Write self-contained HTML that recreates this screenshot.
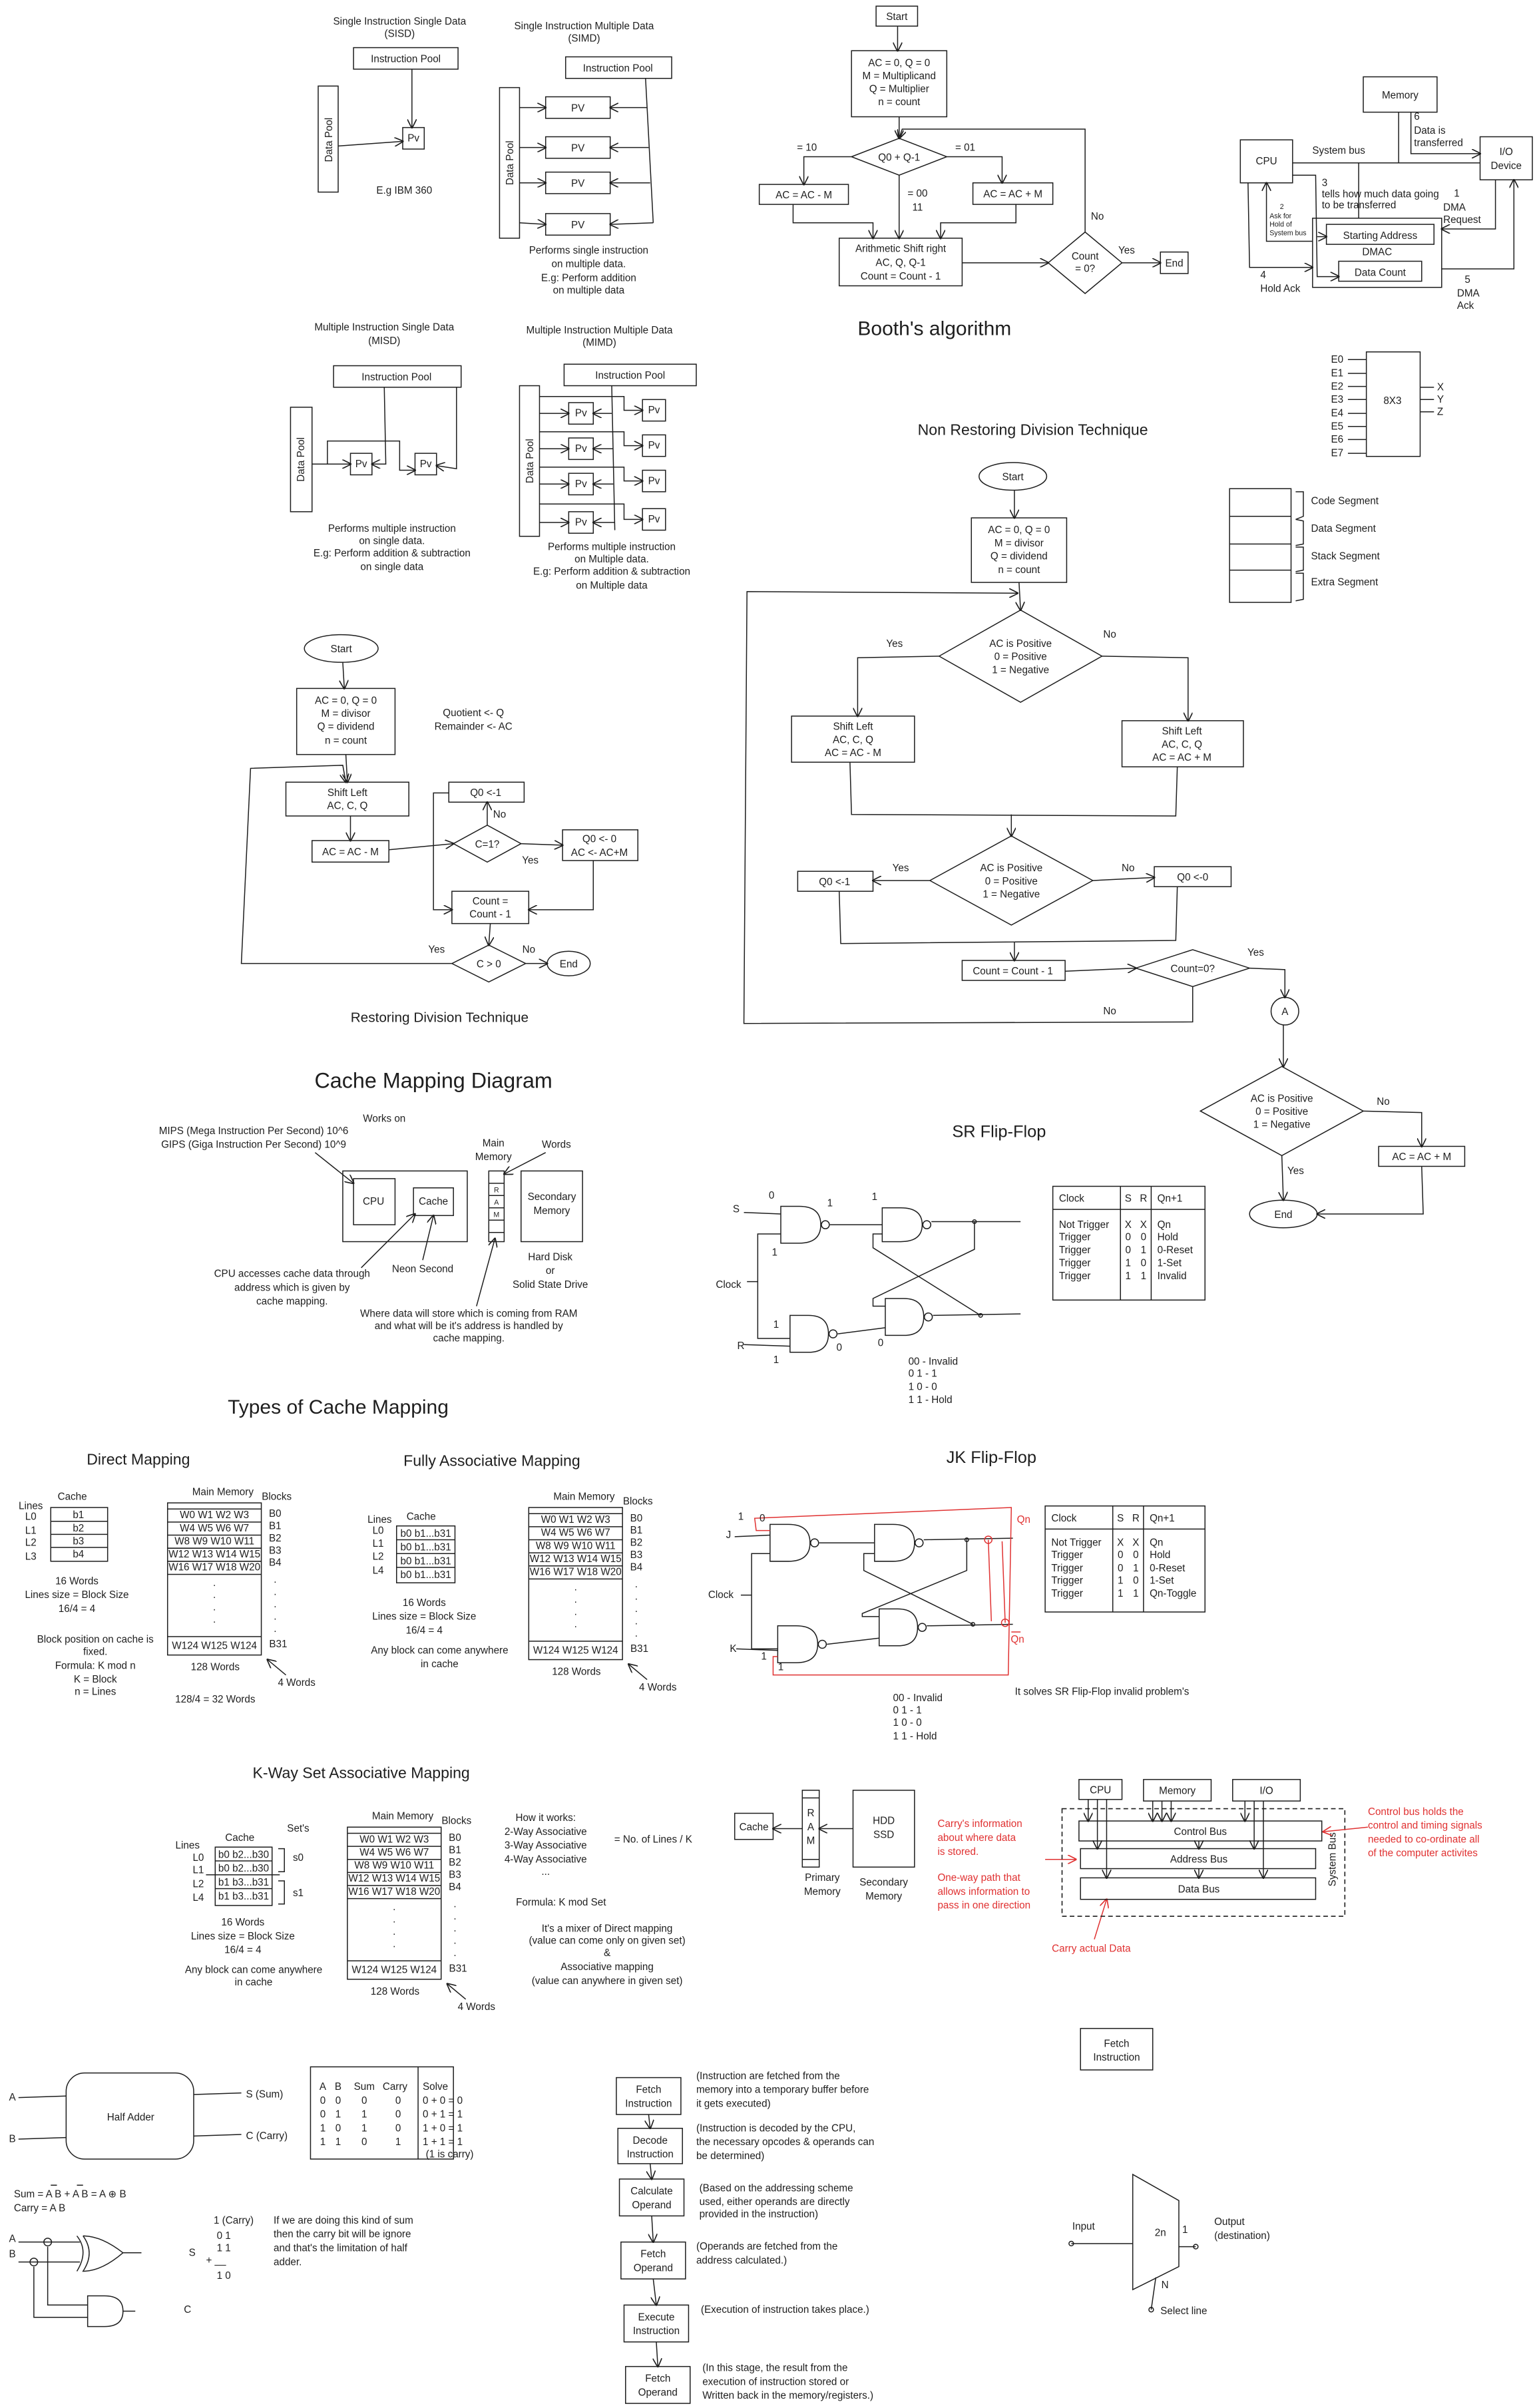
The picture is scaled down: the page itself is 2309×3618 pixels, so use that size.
<!DOCTYPE html>
<html><head><meta charset="utf-8">
<style>
html,body{margin:0;padding:0;background:#fff;}
svg{display:block;}
text{font-family:"Liberation Sans",sans-serif;font-size:6.6px;fill:#1e1e1e;text-anchor:middle;}
.l{text-anchor:start;}
.r{fill:#e03131;}
.t{font-size:13px;}
.t2{font-size:10px;}
.sm{font-size:4.6px;}
.s{fill:none;stroke:#1e1e1e;stroke-width:0.65;}
.b{fill:none;stroke:#1e1e1e;stroke-width:0.65;}
.rd{fill:none;stroke:#e03131;stroke-width:0.65;}
.a{fill:none;stroke:#1e1e1e;stroke-width:0.65;marker-end:url(#ar);}
.ar{fill:none;stroke:#e03131;stroke-width:0.65;marker-end:url(#arr);}
</style></head><body>
<svg width="2309" height="3618" viewBox="0 0 1000 1567" xmlns="http://www.w3.org/2000/svg">
<defs>
<marker id="ar" viewBox="0 0 10 10" refX="9" refY="5" markerWidth="6" markerHeight="6" markerUnits="userSpaceOnUse" orient="auto"><path d="M0,0 L10,5 L0,10" fill="none" stroke="#1e1e1e" stroke-width="1.2"/></marker>
<marker id="arr" viewBox="0 0 10 10" refX="9" refY="5" markerWidth="6" markerHeight="6" markerUnits="userSpaceOnUse" orient="auto"><path d="M0,0 L10,5 L0,10" fill="none" stroke="#e03131" stroke-width="1.2"/></marker>
</defs>
<rect width="1000" height="1567" fill="#fff"/>

<!-- SISD -->
<text x="260" y="16">Single Instruction Single Data</text>
<text x="260" y="24">(SISD)</text>
<rect class="b" x="230" y="31" width="68" height="14"/><text x="264" y="40.5">Instruction Pool</text>
<rect class="b" x="207" y="56" width="13" height="69"/><text transform="translate(216,91) rotate(-90)">Data Pool</text>
<rect class="b" x="262" y="83" width="14" height="14"/><text x="269" y="92">Pv</text>
<path class="a" d="M268,45 L268,83"/><path class="a" d="M220,95 L262,92"/>
<text x="263" y="126">E.g IBM 360</text>

<!-- SIMD -->
<text x="380" y="19">Single Instruction Multiple Data</text>
<text x="380" y="27">(SIMD)</text>
<rect class="b" x="368" y="37" width="69" height="14"/><text x="402" y="46.5">Instruction Pool</text>
<rect class="b" x="325" y="57" width="13" height="98"/><text transform="translate(334,106) rotate(-90)">Data Pool</text>
<rect class="b" x="355" y="63" width="42" height="14"/><text x="376" y="72.5">PV</text>
<rect class="b" x="355" y="89" width="42" height="14"/><text x="376" y="98.5">PV</text>
<rect class="b" x="355" y="112" width="42" height="14"/><text x="376" y="121.5">PV</text>
<rect class="b" x="355" y="139" width="42" height="14"/><text x="376" y="148.5">PV</text>
<path class="s" d="M420,51 L425,145"/>
<path class="a" d="M421,70 L397,70"/><path class="a" d="M422,96 L397,96"/><path class="a" d="M423,119 L397,119"/><path class="a" d="M425,145 L397,146"/>
<path class="a" d="M338,70 L355,70"/><path class="a" d="M338,96 L355,96"/><path class="a" d="M338,119 L355,119"/><path class="a" d="M338,145 L355,146"/>
<text x="383" y="165">Performs single instruction</text>
<text x="383" y="174">on multiple data.</text>
<text x="383" y="183">E.g: Perform addition</text>
<text x="383" y="191">on multiple data</text>

<!-- MISD -->
<text x="250" y="215">Multiple Instruction Single Data</text>
<text x="250" y="224">(MISD)</text>
<rect class="b" x="217" y="238" width="83" height="14"/><text x="258" y="247.5">Instruction Pool</text>
<rect class="b" x="189" y="265" width="14" height="68"/><text transform="translate(198,299) rotate(-90)">Data Pool</text>
<rect class="b" x="228" y="295" width="14" height="14"/><text x="235" y="304">Pv</text>
<rect class="b" x="270" y="295" width="14" height="14"/><text x="277" y="304">Pv</text>
<path class="a" d="M250,252 L251,302 L242,302"/>
<path class="a" d="M297,252 L297,305 L284,303"/>
<path class="a" d="M203,302 L228,302"/>
<path class="a" d="M213,302 L213,287 L260,287 L260,306 L270,306"/>
<text x="255" y="346">Performs multiple instruction</text>
<text x="255" y="354">on single data.</text>
<text x="255" y="362">E.g: Perform addition &amp; subtraction</text>
<text x="255" y="371">on single data</text>

<!-- MIMD -->
<text x="390" y="217">Multiple Instruction Multiple Data</text>
<text x="390" y="225">(MIMD)</text>
<rect class="b" x="367" y="237" width="86" height="14"/><text x="410" y="246.5">Instruction Pool</text>
<rect class="b" x="338" y="251" width="13" height="98"/><text transform="translate(347,300) rotate(-90)">Data Pool</text>
<rect class="b" x="370" y="262" width="16" height="14"/><text x="378" y="271">Pv</text>
<rect class="b" x="370" y="285" width="16" height="14"/><text x="378" y="294">Pv</text>
<rect class="b" x="370" y="308" width="16" height="14"/><text x="378" y="317">Pv</text>
<rect class="b" x="370" y="333" width="16" height="14"/><text x="378" y="342">Pv</text>
<rect class="b" x="418" y="260" width="15" height="14"/><text x="425.5" y="269">Pv</text>
<rect class="b" x="418" y="283" width="15" height="14"/><text x="425.5" y="292">Pv</text>
<rect class="b" x="418" y="306" width="15" height="14"/><text x="425.5" y="315">Pv</text>
<rect class="b" x="418" y="331" width="15" height="14"/><text x="425.5" y="340">Pv</text>
<path class="s" d="M398,251 L400,345"/>
<path class="a" d="M398,269 L386,269"/><path class="a" d="M399,292 L386,292"/><path class="a" d="M399,315 L386,315"/><path class="a" d="M400,340 L386,340"/>
<path class="a" d="M351,269 L370,269"/><path class="a" d="M351,292 L370,292"/><path class="a" d="M351,315 L370,315"/><path class="a" d="M351,340 L370,340"/>
<path class="a" d="M351,258 L406,258 L406,267 L418,267"/><path class="a" d="M351,281 L406,281 L406,290 L418,290"/><path class="a" d="M351,304 L406,304 L406,313 L418,313"/><path class="a" d="M351,328 L406,328 L406,338 L418,338"/>
<text x="398" y="358">Performs multiple instruction</text>
<text x="398" y="366">on Multiple data.</text>
<text x="398" y="374">E.g: Perform addition &amp; subtraction</text>
<text x="398" y="383">on Multiple data</text>

<!-- Booth -->
<rect class="b" x="570" y="4" width="27" height="13"/><text x="583.5" y="13">Start</text>
<path class="a" d="M584,17 L584,33"/>
<rect class="b" x="554" y="33" width="62" height="43"/>
<text x="585" y="43">AC = 0, Q = 0</text><text x="585" y="51.5">M = Multiplicand</text><text x="585" y="60">Q = Multiplier</text><text x="585" y="68.5">n = count</text>
<path class="a" d="M585,76 L585,90"/>
<path class="s" d="M554,102 L585,90 L616,102 L585,114 Z"/><text x="585" y="104.5">Q0 + Q-1</text>
<text x="525" y="98">= 10</text><text x="628" y="98">= 01</text>
<path class="a" d="M554,102 L523,102 L523,120"/>
<path class="a" d="M616,102 L652,102 L652,119"/>
<rect class="b" x="494" y="120" width="58" height="13"/><text x="523" y="129">AC = AC - M</text>
<rect class="b" x="633" y="119" width="52" height="14"/><text x="659" y="128.5">AC = AC + M</text>
<text x="597" y="128">= 00</text><text x="597" y="137">11</text>
<path class="a" d="M585,114 L585,155"/>
<path class="a" d="M516,133 L516,145 L568,145 L568,155"/>
<path class="a" d="M661,133 L661,145 L612,145 L612,155"/>
<rect class="b" x="546" y="155" width="80" height="31"/>
<text x="586" y="164">Arithmetic Shift right</text><text x="586" y="173">AC, Q, Q-1</text><text x="586" y="182">Count = Count - 1</text>
<path class="a" d="M626,171 L682,171"/>
<path class="s" d="M682,171 L706,151 L730,171 L706,191 Z"/><text x="706" y="169">Count</text><text x="706" y="177">= 0?</text>
<text x="733" y="165">Yes</text><text x="714" y="143">No</text>
<path class="a" d="M730,171 L755,171"/>
<rect class="b" x="755" y="164" width="18" height="14"/><text x="764" y="173.5">End</text>
<path class="a" d="M706,151 L706,84 L587,84 L585,90"/>
<text x="608" y="218" class="t">Booth's algorithm</text>

<!-- DMA -->
<rect class="b" x="887" y="50" width="48" height="23"/><text x="911" y="64">Memory</text>
<rect class="b" x="807" y="91" width="34" height="28"/><text x="824" y="107">CPU</text>
<rect class="b" x="963" y="89" width="34" height="28"/><text x="980" y="101">I/O</text><text x="980" y="110">Device</text>
<path class="s" d="M841,106 L963,106"/><text x="871" y="100">System bus</text>
<path class="s" d="M910,73 L910,106"/>
<path class="a" d="M918,73 L918,100 L963,100"/>
<text class="l" x="920" y="78">6</text><text class="l" x="920" y="87">Data is</text><text class="l" x="920" y="95">transferred</text>
<path class="s" d="M884,106 L884,142"/>
<rect class="b" x="854" y="142" width="84" height="45"/>
<rect class="b" x="863" y="146" width="70" height="13"/><text x="898" y="155.5">Starting Address</text>
<text x="896" y="166">DMAC</text>
<rect class="b" x="871" y="170" width="54" height="13"/><text x="898" y="179.5">Data Count</text>
<path class="a" d="M841,114 L856,114 L857,180 L871,180"/>
<path class="a" d="M857,154 L863,154"/>
<path class="a" d="M812,119 L813,174 L854,174"/>
<path class="a" d="M854,157 L824,157 L824,119"/>
<path class="a" d="M973,117 L973,149 L938,149"/>
<path class="a" d="M938,175 L985,175 L985,117"/>
<text class="l" x="860" y="121">3</text><text class="l" x="860" y="128.5">tells how much data going</text><text class="l" x="860" y="135.5">to be transferred</text>
<text class="l" x="946" y="128">1</text><text class="l" x="939" y="137">DMA</text><text class="l" x="939" y="145">Request</text>
<text class="sm" x="834" y="136">2</text><text class="l sm" x="826" y="142">Ask for</text><text class="l sm" x="826" y="147.5">Hold of</text><text class="l sm" x="826" y="153">System bus</text>
<text class="l" x="820" y="181">4</text><text class="l" x="820" y="190">Hold Ack</text>
<text class="l" x="953" y="184">5</text><text class="l" x="948" y="193">DMA</text><text class="l" x="948" y="201">Ack</text>

<!-- Decoder -->
<text class="l" x="866" y="236">E0</text><text class="l" x="866" y="245">E1</text><text class="l" x="866" y="253.5">E2</text><text class="l" x="866" y="262">E3</text><text class="l" x="866" y="271">E4</text><text class="l" x="866" y="279.5">E5</text><text class="l" x="866" y="288">E6</text><text class="l" x="866" y="297">E7</text>
<path class="s" d="M877,234h12M877,243h12M877,251.5h12M877,260h12M877,269h12M877,277.5h12M877,286h12M877,295h12"/>
<rect class="b" x="889" y="229" width="35" height="68"/><text x="906" y="263">8X3</text>
<path class="s" d="M924,252h9M924,260h9M924,268h9"/>
<text class="l" x="935" y="254">X</text><text class="l" x="935" y="262">Y</text><text class="l" x="935" y="270">Z</text>

<!-- Segments -->
<rect class="b" x="800" y="318" width="40" height="74"/>
<path class="s" d="M800,336h40M800,354h40M800,371h40"/>
<path class="s" d="M843,320 L848,320 L848,336 L843,338M843,338 L848,339 L848,354 L843,355M843,356 L848,356 L848,371 L843,372M843,373 L848,373 L848,390 L843,391"/>
<text class="l" x="853" y="328">Code Segment</text><text class="l" x="853" y="346">Data Segment</text><text class="l" x="853" y="364">Stack Segment</text><text class="l" x="853" y="381">Extra Segment</text>

<!-- Non restoring -->
<text x="672" y="283" class="t2">Non Restoring Division Technique</text>
<ellipse class="b" cx="659" cy="310" rx="22" ry="9"/><text x="659" y="312.5">Start</text>
<path class="a" d="M660,319 L660,337"/>
<rect class="b" x="632" y="337" width="62" height="42"/>
<text x="663" y="347">AC = 0, Q = 0</text><text x="663" y="355.5">M = divisor</text><text x="663" y="364">Q = dividend</text><text x="663" y="373">n = count</text>
<path class="a" d="M663,379 L664,397"/>
<path class="s" d="M611,427 L664,397 L717,427 L664,457 Z"/>
<text x="664" y="421">AC is Positive</text><text x="664" y="429.5">0 = Positive</text><text x="664" y="438">1 = Negative</text>
<text x="582" y="421">Yes</text><text x="722" y="415">No</text>
<path class="a" d="M611,427 L558,428 L558,466"/>
<path class="a" d="M717,427 L773,428 L773,469"/>
<rect class="b" x="515" y="466" width="80" height="30"/><text x="555" y="475">Shift Left</text><text x="555" y="483.5">AC, C, Q</text><text x="555" y="492">AC = AC - M</text>
<rect class="b" x="730" y="469" width="79" height="30"/><text x="769" y="478">Shift Left</text><text x="769" y="486.5">AC, C, Q</text><text x="769" y="495">AC = AC + M</text>
<path class="s" d="M553,496 L554,530 L765,531 L766,499"/>
<path class="a" d="M658,530 L658,544"/>
<path class="s" d="M605,573 L658,544 L711,573 L658,602 Z"/>
<text x="658" y="567">AC is Positive</text><text x="658" y="575.5">0 = Positive</text><text x="658" y="584">1 = Negative</text>
<text x="586" y="567">Yes</text><text x="734" y="567">No</text>
<path class="a" d="M605,573 L568,573"/><path class="a" d="M711,573 L751,571"/>
<rect class="b" x="519" y="567" width="49" height="13"/><text x="543" y="576">Q0 &lt;-1</text>
<rect class="b" x="751" y="564" width="50" height="13"/><text x="776" y="573">Q0 &lt;-0</text>
<path class="s" d="M546,580 L547,614 L765,612 L766,577"/>
<path class="a" d="M660,613 L660,625"/>
<rect class="b" x="626" y="625" width="67" height="13"/><text x="659" y="634">Count = Count - 1</text>
<path class="a" d="M693,632 L739,630"/>
<path class="s" d="M739,630 L776,618 L813,630 L776,642 Z"/><text x="776" y="632.5">Count=0?</text>
<text x="817" y="622">Yes</text><text x="722" y="660">No</text>
<path class="a" d="M776,642 L776,665 L484,666 L486,385 L662,386"/>
<path class="a" d="M813,630 L836,631 L836,649"/>
<circle class="b" cx="836" cy="658" r="9"/><text x="836" y="660.5">A</text>
<path class="a" d="M835,667 L835,694"/>
<path class="s" d="M781,723 L834,694 L887,723 L834,752 Z"/>
<text x="834" y="717">AC is Positive</text><text x="834" y="725.5">0 = Positive</text><text x="834" y="734">1 = Negative</text>
<text x="900" y="719">No</text><text x="843" y="764">Yes</text>
<path class="a" d="M887,723 L925,724 L925,746"/>
<rect class="b" x="897" y="746" width="56" height="13"/><text x="925" y="755">AC = AC + M</text>
<path class="a" d="M834,752 L835,781"/>
<path class="a" d="M925,759 L926,790 L857,790"/>
<ellipse class="b" cx="835" cy="790" rx="22" ry="9"/><text x="835" y="792.5">End</text>

<!-- Restoring -->
<ellipse class="b" cx="222" cy="422" rx="24" ry="9"/><text x="222" y="424.5">Start</text>
<path class="a" d="M223,431 L224,448"/>
<rect class="b" x="193" y="448" width="64" height="43"/>
<text x="225" y="458">AC = 0, Q = 0</text><text x="225" y="466.5">M = divisor</text><text x="225" y="475">Q = dividend</text><text x="225" y="484">n = count</text>
<text x="308" y="466">Quotient &lt;- Q</text><text x="308" y="475">Remainder &lt;- AC</text>
<path class="a" d="M225,491 L226,509"/>
<rect class="b" x="186" y="509" width="80" height="22"/><text x="226" y="518">Shift Left</text><text x="226" y="526.5">AC, C, Q</text>
<path class="a" d="M228,531 L228,547"/>
<rect class="b" x="203" y="547" width="50" height="14"/><text x="228" y="556.5">AC = AC - M</text>
<path class="a" d="M253,553 L295,549"/>
<path class="s" d="M295,549 L317,537 L339,549 L317,561 Z"/><text x="317" y="551.5">C=1?</text>
<text x="325" y="532">No</text><text x="345" y="562">Yes</text>
<path class="a" d="M317,537 L317,522"/>
<rect class="b" x="292" y="509" width="49" height="13"/><text x="316" y="518">Q0 &lt;-1</text>
<path class="a" d="M339,549 L366,550"/>
<rect class="b" x="366" y="540" width="49" height="20"/><text x="390" y="548">Q0 &lt;- 0</text><text x="390" y="557">AC &lt;- AC+M</text>
<path class="a" d="M292,516 L282,516 L282,592 L294,592"/>
<path class="a" d="M386,560 L386,592 L344,592"/>
<rect class="b" x="294" y="580" width="50" height="21"/><text x="319" y="588.5">Count =</text><text x="319" y="597">Count - 1</text>
<path class="a" d="M319,601 L318,615"/>
<path class="s" d="M294,627 L318,615 L342,627 L318,639 Z"/><text x="318" y="629.5">C &gt; 0</text>
<text x="284" y="620">Yes</text><text x="344" y="620">No</text>
<path class="a" d="M342,627 L356,627"/>
<ellipse class="b" cx="370" cy="627" rx="14" ry="8"/><text x="370" y="629.5">End</text>
<path class="a" d="M294,627 L157,627 L163,500 L223,498 L225,509"/>
<text x="286" y="665" class="t2" style="font-size:9px">Restoring Division Technique</text>

<!-- Cache mapping diagram -->
<text x="282" y="708" style="font-size:14px">Cache Mapping Diagram</text>
<text x="250" y="730">Works on</text>
<text x="165" y="738">MIPS (Mega Instruction Per Second) 10^6</text>
<text x="165" y="747">GIPS (Giga Instruction Per Second) 10^9</text>
<path class="a" d="M205,750 L230,770"/>
<rect class="b" x="223" y="762" width="81" height="46"/>
<rect class="b" x="230" y="767" width="27" height="30"/><text x="243" y="784">CPU</text>
<rect class="b" x="269" y="773" width="26" height="18"/><text x="282" y="784">Cache</text>
<rect class="b" x="318" y="762" width="10" height="46"/>
<path class="s" d="M318,770h10M318,778h10M318,786h10M318,794h10M318,802h10"/>
<text x="323" y="776" class="sm">R</text><text x="323" y="784" class="sm">A</text><text x="323" y="792" class="sm">M</text>
<text x="321" y="746">Main</text><text x="321" y="755">Memory</text>
<text x="362" y="747">Words</text><path class="a" d="M355,750 L328,764"/>
<rect class="b" x="339" y="762" width="40" height="46"/><text x="359" y="781">Secondary</text><text x="359" y="790">Memory</text>
<text x="275" y="828">Neon Second</text><path class="a" d="M275,820 L282,791"/>
<text x="358" y="820">Hard Disk</text><text x="358" y="829">or</text><text x="358" y="838">Solid State Drive</text>
<text x="190" y="831">CPU accesses cache data through</text><text x="190" y="840">address which is given by</text><text x="190" y="849">cache mapping.</text>
<path class="a" d="M235,825 L270,790"/>
<text x="305" y="857">Where data will store which is coming from RAM</text><text x="305" y="865">and what will be it's address is handled by</text><text x="305" y="873">cache mapping.</text>
<path class="a" d="M310,850 L322,806"/>
<text x="220" y="920" style="font-size:13px">Types of Cache Mapping</text>

<!-- Direct mapping -->
<text x="90" y="953" class="t2">Direct Mapping</text>
<text x="20" y="982">Lines</text><text x="47" y="976">Cache</text>
<text x="20" y="989">L0</text><text x="20" y="998">L1</text><text x="20" y="1006">L2</text><text x="20" y="1015">L3</text>
<rect class="b" x="33" y="981" width="37" height="35"/>
<path class="s" d="M33,990h37M33,998.5h37M33,1007h37"/>
<text x="51" y="988">b1</text><text x="51" y="996.5">b2</text><text x="51" y="1005">b3</text><text x="51" y="1013.5">b4</text>
<text x="50" y="1031">16 Words</text><text x="50" y="1040">Lines size = Block Size</text><text x="50" y="1049">16/4 = 4</text>
<text x="62" y="1069">Block position on cache is</text><text x="62" y="1077">fixed.</text><text x="62" y="1086">Formula: K mod n</text><text x="62" y="1095">K = Block</text><text x="62" y="1103">n = Lines</text>
<g>
<text x="145" y="973">Main Memory</text><text x="180" y="976">Blocks</text>
<rect class="b" x="109" y="978" width="61" height="99"/>
<path class="s" d="M109,982h61M109,990.5h61M109,999h61M109,1007.5h61M109,1016h61M109,1024.5h61M109,1065h61"/>
<text x="139.5" y="988">W0 W1 W2 W3</text><text x="139.5" y="996.5">W4 W5 W6 W7</text><text x="139.5" y="1005">W8 W9 W10 W11</text><text x="139.5" y="1013.5">W12 W13 W14 W15</text><text x="139.5" y="1022">W16 W17 W18 W20</text>
<text x="139.5" y="1032">.</text><text x="139.5" y="1040">.</text><text x="139.5" y="1048">.</text><text x="139.5" y="1056">.</text>
<text x="139.5" y="1073">W124 W125 W124</text>
<text x="179" y="987">B0</text><text x="179" y="995">B1</text><text x="179" y="1003">B2</text><text x="179" y="1011">B3</text><text x="179" y="1019">B4</text>
<text x="179" y="1030">.</text><text x="179" y="1038">.</text><text x="179" y="1046">.</text><text x="179" y="1054">.</text><text x="179" y="1062">.</text>
<text x="181" y="1072">B31</text>
<text x="140" y="1087">128 Words</text>
<text x="193" y="1097">4 Words</text><path class="a" d="M186,1090 L174,1080"/>
</g>
<text x="140" y="1108">128/4 = 32 Words</text>

<!-- Fully associative -->
<text x="320" y="954" class="t2">Fully Associative Mapping</text>
<text x="247" y="991">Lines</text><text x="274" y="989">Cache</text>
<text x="246" y="998">L0</text><text x="246" y="1006.5">L1</text><text x="246" y="1015">L2</text><text x="246" y="1024">L4</text>
<rect class="b" x="258" y="993" width="38" height="37"/>
<path class="s" d="M258,1002h38M258,1011h38M258,1020h38"/>
<text x="277" y="1000">b0 b1...b31</text><text x="277" y="1009">b0 b1...b31</text><text x="277" y="1018">b0 b1...b31</text><text x="277" y="1027">b0 b1...b31</text>
<text x="276" y="1045">16 Words</text><text x="276" y="1054">Lines size = Block Size</text><text x="276" y="1063">16/4 = 4</text>
<text x="286" y="1076">Any block can come anywhere</text><text x="286" y="1085">in cache</text>
<g transform="translate(235,3)">
<text x="145" y="973">Main Memory</text><text x="180" y="976">Blocks</text>
<rect class="b" x="109" y="978" width="61" height="99"/>
<path class="s" d="M109,982h61M109,990.5h61M109,999h61M109,1007.5h61M109,1016h61M109,1024.5h61M109,1065h61"/>
<text x="139.5" y="988">W0 W1 W2 W3</text><text x="139.5" y="996.5">W4 W5 W6 W7</text><text x="139.5" y="1005">W8 W9 W10 W11</text><text x="139.5" y="1013.5">W12 W13 W14 W15</text><text x="139.5" y="1022">W16 W17 W18 W20</text>
<text x="139.5" y="1032">.</text><text x="139.5" y="1040">.</text><text x="139.5" y="1048">.</text><text x="139.5" y="1056">.</text>
<text x="139.5" y="1073">W124 W125 W124</text>
<text x="179" y="987">B0</text><text x="179" y="995">B1</text><text x="179" y="1003">B2</text><text x="179" y="1011">B3</text><text x="179" y="1019">B4</text>
<text x="179" y="1030">.</text><text x="179" y="1038">.</text><text x="179" y="1046">.</text><text x="179" y="1054">.</text><text x="179" y="1062">.</text>
<text x="181" y="1072">B31</text>
<text x="140" y="1087">128 Words</text>
<text x="193" y="1097">4 Words</text><path class="a" d="M186,1090 L174,1080"/>
</g>

<!-- K-way -->
<text x="235" y="1157" class="t2">K-Way Set Associative Mapping</text>
<text x="122" y="1203">Lines</text><text x="156" y="1198">Cache</text><text x="194" y="1192">Set's</text>
<text x="129" y="1211">L0</text><text x="129" y="1219">L1</text><text x="129" y="1228">L2</text><text x="129" y="1237">L4</text>
<rect class="b" x="140" y="1202" width="37" height="38"/>
<path class="s" d="M140,1211h37M134,1220h48M140,1229h37"/>
<text x="158.5" y="1209">b0 b2...b30</text><text x="158.5" y="1218">b0 b2...b30</text><text x="158.5" y="1227">b1 b3...b31</text><text x="158.5" y="1236">b1 b3...b31</text>
<path class="s" d="M181,1203 L185,1203 L185,1218 L181,1218M181,1224 L185,1224 L185,1239 L181,1239"/>
<text x="194" y="1211">s0</text><text x="194" y="1234">s1</text>
<text x="158" y="1253">16 Words</text><text x="158" y="1262">Lines size = Block Size</text><text x="158" y="1271">16/4 = 4</text>
<text x="165" y="1284">Any block can come anywhere</text><text x="165" y="1292">in cache</text>
<g transform="translate(117,211)">
<text x="145" y="973">Main Memory</text><text x="180" y="976">Blocks</text>
<rect class="b" x="109" y="978" width="61" height="99"/>
<path class="s" d="M109,982h61M109,990.5h61M109,999h61M109,1007.5h61M109,1016h61M109,1024.5h61M109,1065h61"/>
<text x="139.5" y="988">W0 W1 W2 W3</text><text x="139.5" y="996.5">W4 W5 W6 W7</text><text x="139.5" y="1005">W8 W9 W10 W11</text><text x="139.5" y="1013.5">W12 W13 W14 W15</text><text x="139.5" y="1022">W16 W17 W18 W20</text>
<text x="139.5" y="1032">.</text><text x="139.5" y="1040">.</text><text x="139.5" y="1048">.</text><text x="139.5" y="1056">.</text>
<text x="139.5" y="1073">W124 W125 W124</text>
<text x="179" y="987">B0</text><text x="179" y="995">B1</text><text x="179" y="1003">B2</text><text x="179" y="1011">B3</text><text x="179" y="1019">B4</text>
<text x="179" y="1030">.</text><text x="179" y="1038">.</text><text x="179" y="1046">.</text><text x="179" y="1054">.</text><text x="179" y="1062">.</text>
<text x="181" y="1072">B31</text>
<text x="140" y="1087">128 Words</text>
<text x="193" y="1097">4 Words</text><path class="a" d="M186,1090 L174,1080"/>
</g>
<text x="355" y="1185">How it works:</text>
<text x="355" y="1194">2-Way Associative</text><text x="355" y="1203">3-Way Associative</text><text x="355" y="1212">4-Way Associative</text><text x="355" y="1220">...</text>
<text x="425" y="1199">= No. of Lines / K</text>
<text x="365" y="1240">Formula: K mod Set</text>
<text x="395" y="1257">It's a mixer of Direct mapping</text><text x="395" y="1265">(value can come only on given set)</text><text x="395" y="1273">&amp;</text><text x="395" y="1282">Associative mapping</text><text x="395" y="1291">(value can anywhere in given set)</text>

<!-- SR flip flop -->
<text x="650" y="740" style="font-size:11px">SR Flip-Flop</text>
<path class="s" d="M508,785 L520,785 Q534,785 534,797 Q534,809 520,809 L508,809 Z"/><circle class="b" cx="537" cy="797" r="2.6"/>
<path class="s" d="M574,786 L586,786 Q600,786 600,797 Q600,808 586,808 L574,808 Z"/><circle class="b" cx="603" cy="797" r="2.6"/>
<path class="s" d="M514,856 L526,856 Q539,856 539,868 Q539,880 526,880 L514,880 Z"/><circle class="b" cx="542" cy="868" r="2.6"/>
<path class="s" d="M576,845 L588,845 Q601,845 601,857 Q601,869 588,869 L576,869 Z"/><circle class="b" cx="604" cy="857" r="2.6"/>
<path class="s" d="M484,789 L508,790M540,797 L574,797M606,795 L664,795M545,868 L576,864M607,856 L664,855"/>
<path class="s" d="M508,803 L493,803 L493,871 L514,871M486,834 L493,834M484,875 L514,876"/>
<path class="s" d="M574,803 L568,803 L568,812 L638,856M634,795 L634,813 L568,845 L568,850 L576,850"/>
<circle class="b" cx="634" cy="795" r="1.2"/><circle class="b" cx="638" cy="856" r="1.2"/>
<text x="479" y="789">S</text><text x="482" y="878">R</text><text x="474" y="838">Clock</text>
<text x="502" y="780">0</text><text x="540" y="785">1</text><text x="569" y="781">1</text><text x="504" y="817">1</text><text x="505" y="864">1</text><text x="546" y="879">0</text><text x="573" y="876">0</text><text x="505" y="887">1</text>
<text class="l" x="591" y="888">00 - Invalid</text><text class="l" x="591" y="896">0 1 - 1</text><text class="l" x="591" y="904.5">1 0 - 0</text><text class="l" x="591" y="913">1 1 - Hold</text>
<rect class="b" x="685" y="772" width="99" height="74"/>
<path class="s" d="M685,787h99M729,772v74M749,772v74"/>
<text class="l" x="689" y="782">Clock</text><text x="734" y="782">S</text><text x="744" y="782">R</text><text class="l" x="753" y="782">Qn+1</text>
<text class="l" x="689" y="799">Not Trigger</text><text class="l" x="689" y="807">Trigger</text><text class="l" x="689" y="815.5">Trigger</text><text class="l" x="689" y="824">Trigger</text><text class="l" x="689" y="832.5">Trigger</text>
<text x="734" y="799">X</text><text x="744" y="799">X</text><text x="734" y="807">0</text><text x="744" y="807">0</text><text x="734" y="815.5">0</text><text x="744" y="815.5">1</text><text x="734" y="824">1</text><text x="744" y="824">0</text><text x="734" y="832.5">1</text><text x="744" y="832.5">1</text>
<text class="l" x="753" y="799">Qn</text><text class="l" x="753" y="807">Hold</text><text class="l" x="753" y="815.5">0-Reset</text><text class="l" x="753" y="824">1-Set</text><text class="l" x="753" y="832.5">Invalid</text>

<!-- JK flip flop -->
<text x="645" y="952" style="font-size:11px">JK Flip-Flop</text>
<path class="s" d="M501,992 L513,992 Q527,992 527,1004 Q527,1016 513,1016 L501,1016 Z"/><circle class="b" cx="530" cy="1004" r="2.6"/>
<path class="s" d="M569,992 L581,992 Q595,992 595,1004 Q595,1016 581,1016 L569,1016 Z"/><circle class="b" cx="598" cy="1004" r="2.6"/>
<path class="s" d="M506,1058 L518,1058 Q532,1058 532,1070 Q532,1082 518,1082 L506,1082 Z"/><circle class="b" cx="535" cy="1070" r="2.6"/>
<path class="s" d="M572,1047 L584,1047 Q597,1047 597,1059 Q597,1071 584,1071 L572,1071 Z"/><circle class="b" cx="600" cy="1059" r="2.6"/>
<path class="s" d="M478,1000 L501,999M533,1004 L569,1004M601,1002 L659,1001M538,1070 L572,1066M603,1058 L659,1057"/>
<path class="s" d="M501,1011 L489,1011 L489,1073 L506,1073M482,1038 L489,1038M479,1073 L506,1074"/>
<path class="s" d="M569,1011 L562,1011 L562,1022 L633,1057M629,1002 L629,1022 L561,1050 L561,1052 L572,1052"/>
<circle class="b" cx="629" cy="1002" r="1.2"/><circle class="b" cx="633" cy="1057" r="1.2"/>
<path class="rd" d="M501,996 L492,996 L491,988 L658,981 L656,1090 L503,1090 L503,1078 L506,1078"/>
<path class="rd" d="M643,1002 L645,1055M654,1056 L652,1003"/>
<circle class="rd" cx="643" cy="1002" r="2.4"/><circle class="rd" cx="654" cy="1056" r="2.4"/>
<text class="r" x="666" y="991">Qn</text><text class="r" x="662" y="1069">Qn</text><path class="rd" d="M658,1062h6"/>
<text x="474" y="1001">J</text><text x="477" y="1075">K</text><text x="469" y="1040">Clock</text>
<text x="482" y="989">1</text><text x="496" y="990">0</text><text x="497" y="1080">1</text><text x="508" y="1087">1</text>
<text class="l" x="581" y="1107">00 - Invalid</text><text class="l" x="581" y="1115">0 1 - 1</text><text class="l" x="581" y="1123">1 0 - 0</text><text class="l" x="581" y="1132">1 1 - Hold</text>
<text x="717" y="1103">It solves SR Flip-Flop invalid problem's</text>
<rect class="b" x="680" y="980" width="104" height="69"/>
<path class="s" d="M680,995h104M724,980v69M744,980v69"/>
<text class="l" x="684" y="990">Clock</text><text x="729" y="990">S</text><text x="739" y="990">R</text><text class="l" x="748" y="990">Qn+1</text>
<text class="l" x="684" y="1006">Not Trigger</text><text class="l" x="684" y="1014">Trigger</text><text class="l" x="684" y="1022.5">Trigger</text><text class="l" x="684" y="1030.5">Trigger</text><text class="l" x="684" y="1039">Trigger</text>
<text x="729" y="1006">X</text><text x="739" y="1006">X</text><text x="729" y="1014">0</text><text x="739" y="1014">0</text><text x="729" y="1022.5">0</text><text x="739" y="1022.5">1</text><text x="729" y="1030.5">1</text><text x="739" y="1030.5">0</text><text x="729" y="1039">1</text><text x="739" y="1039">1</text>
<text class="l" x="748" y="1006">Qn</text><text class="l" x="748" y="1014">Hold</text><text class="l" x="748" y="1022.5">0-Reset</text><text class="l" x="748" y="1030.5">1-Set</text><text class="l" x="748" y="1039">Qn-Toggle</text>

<!-- Memory hierarchy / bus -->
<rect class="b" x="478" y="1180" width="25" height="17"/><text x="490.5" y="1191">Cache</text>
<path class="a" d="M522,1190 L503,1190"/>
<rect class="b" x="522" y="1165" width="11" height="50"/>
<path class="s" d="M522,1170h11M522,1210h11"/>
<text x="527.5" y="1182">R</text><text x="527.5" y="1191">A</text><text x="527.5" y="1200">M</text>
<path class="a" d="M555,1190 L533,1190"/>
<rect class="b" x="555" y="1165" width="40" height="50"/><text x="575" y="1187">HDD</text><text x="575" y="1196">SSD</text>
<text x="535" y="1224">Primary</text><text x="535" y="1233">Memory</text>
<text x="575" y="1227">Secondary</text><text x="575" y="1236">Memory</text>
<text class="l r" x="610" y="1189">Carry's information</text><text class="l r" x="610" y="1198">about where data</text><text class="l r" x="610" y="1207">is stored.</text>
<text class="l r" x="610" y="1224">One-way path that</text><text class="l r" x="610" y="1233">allows information to</text><text class="l r" x="610" y="1242">pass in one direction</text>
<path class="ar" d="M680,1210 L700,1210"/>
<text class="r" x="710" y="1270">Carry actual Data</text>
<path class="ar" d="M712,1262 L720,1236"/>
<rect class="b" x="702" y="1158" width="28" height="13"/><text x="716" y="1167">CPU</text>
<rect class="b" x="744" y="1158" width="44" height="14"/><text x="766" y="1167.5">Memory</text>
<rect class="b" x="802" y="1158" width="44" height="14"/><text x="824" y="1167.5">I/O</text>
<rect x="691" y="1177" width="184" height="70" fill="none" stroke="#1e1e1e" stroke-width="0.7" stroke-dasharray="3,2"/>
<rect class="b" x="702" y="1185" width="158" height="13"/><text x="781" y="1194">Control Bus</text>
<rect class="b" x="703" y="1203" width="153" height="13"/><text x="780" y="1212">Address Bus</text>
<rect class="b" x="703" y="1222" width="153" height="14"/><text x="780" y="1231.5">Data Bus</text>
<text transform="translate(869,1210) rotate(-90)">System Bus</text>
<path class="a" d="M708,1171 L708,1185"/><path class="a" d="M714,1171 L714,1203"/><path class="a" d="M720,1171 L720,1222"/>
<path class="a" d="M750,1172 L750,1185"/><path class="a" d="M756,1172 L756,1185"/><path class="a" d="M762,1172 L762,1185"/>
<path class="a" d="M810,1172 L810,1185"/><path class="a" d="M816,1172 L816,1203"/><path class="a" d="M822,1172 L822,1222"/>
<path class="a" d="M780,1198 L780,1203"/><path class="a" d="M780,1216 L780,1222"/>
<text class="l r" x="890" y="1181">Control bus holds the</text><text class="l r" x="890" y="1190">control and timing signals</text><text class="l r" x="890" y="1199">needed to co-ordinate all</text><text class="l r" x="890" y="1208">of the computer activites</text>
<path class="ar" d="M890,1189 L861,1192"/>

<!-- Half adder -->
<rect class="b" x="43" y="1349" width="83" height="56" rx="12"/><text x="85" y="1380">Half Adder</text>
<path class="s" d="M12,1365 L43,1364M12,1392 L43,1391M126,1363 L157,1362M126,1390 L157,1389"/>
<text x="8" y="1367">A</text><text x="8" y="1394">B</text>
<text class="l" x="160" y="1365">S (Sum)</text><text class="l" x="160" y="1392">C (Carry)</text>
<rect class="b" x="202" y="1345" width="93" height="60"/><path class="s" d="M272,1345v60"/>
<text x="210" y="1360">A</text><text x="220" y="1360">B</text><text x="237" y="1360">Sum</text><text x="257" y="1360">Carry</text><text class="l" x="275" y="1360">Solve</text>
<text x="210" y="1369">0</text><text x="220" y="1369">0</text><text x="237" y="1369">0</text><text x="259" y="1369">0</text><text class="l" x="275" y="1369">0 + 0 = 0</text>
<text x="210" y="1378">0</text><text x="220" y="1378">1</text><text x="237" y="1378">1</text><text x="259" y="1378">0</text><text class="l" x="275" y="1378">0 + 1 = 1</text>
<text x="210" y="1387">1</text><text x="220" y="1387">0</text><text x="237" y="1387">1</text><text x="259" y="1387">0</text><text class="l" x="275" y="1387">1 + 0 = 1</text>
<text x="210" y="1396">1</text><text x="220" y="1396">1</text><text x="237" y="1396">0</text><text x="259" y="1396">1</text><text class="l" x="275" y="1396">1 + 1 = 1</text>
<text class="l" x="277" y="1404">(1 is carry)</text>
<text class="l" x="9" y="1430">Sum = A B + A B = A ⊕ B</text><path class="s" d="M33,1422h4M50,1422h4"/>
<text class="l" x="9" y="1439">Carry = A B</text>
<path class="s" d="M50,1455 Q58,1465 50,1478 M54,1455 Q66,1455 80,1466 Q66,1478 54,1478 Q62,1466 54,1455"/>
<path class="s" d="M12,1459 L52,1459M12,1472 L52,1472M80,1466 L92,1466"/>
<circle class="b" cx="31" cy="1459" r="2.5"/><circle class="b" cx="22" cy="1472" r="2.5"/>
<path class="s" d="M31,1462 L31,1500 L57,1500M22,1475 L22,1508 L57,1508"/>
<path class="s" d="M57,1494 L68,1494 Q80,1494 80,1504 Q80,1514 68,1514 L57,1514 Z M80,1504 L88,1504"/>
<text x="8" y="1459">A</text><text x="8" y="1469">B</text><text x="125" y="1468">S</text><text x="122" y="1505">C</text>
<text class="l" x="139" y="1447">1 (Carry)</text><text class="l" x="141" y="1457">0 1</text><text class="l" x="141" y="1465">1 1</text><text class="l" x="134" y="1473">+ __</text><text class="l" x="141" y="1483">1 0</text>
<text class="l" x="178" y="1447">If we are doing this kind of sum</text><text class="l" x="178" y="1456">then the carry bit will be ignore</text><text class="l" x="178" y="1465">and that's the limitation of half</text><text class="l" x="178" y="1474">adder.</text>

<!-- Instruction cycle -->
<rect class="b" x="401" y="1352" width="42" height="24"/><text x="422" y="1362">Fetch</text><text x="422" y="1371">Instruction</text>
<rect class="b" x="402" y="1385" width="42" height="23"/><text x="423" y="1395">Decode</text><text x="423" y="1404">Instruction</text>
<rect class="b" x="403" y="1418" width="42" height="24"/><text x="424" y="1428">Calculate</text><text x="424" y="1437">Operand</text>
<rect class="b" x="404" y="1459" width="42" height="24"/><text x="425" y="1469">Fetch</text><text x="425" y="1478">Operand</text>
<rect class="b" x="406" y="1500" width="42" height="24"/><text x="427" y="1510">Execute</text><text x="427" y="1519">Instruction</text>
<rect class="b" x="407" y="1540" width="42" height="24"/><text x="428" y="1550">Fetch</text><text x="428" y="1559">Operand</text>
<path class="a" d="M422,1376 L423,1385"/><path class="a" d="M423,1408 L424,1418"/><path class="a" d="M424,1442 L425,1459"/><path class="a" d="M425,1483 L427,1500"/><path class="a" d="M427,1524 L428,1540"/>
<text class="l" x="453" y="1353">(Instruction are fetched from the</text><text class="l" x="453" y="1362">memory into a temporary buffer before</text><text class="l" x="453" y="1371">it gets executed)</text>
<text class="l" x="453" y="1387">(Instruction is decoded by the CPU,</text><text class="l" x="453" y="1396">the necessary opcodes &amp; operands can</text><text class="l" x="453" y="1405">be determined)</text>
<text class="l" x="455" y="1426">(Based on the addressing scheme</text><text class="l" x="455" y="1435">used, either operands are directly</text><text class="l" x="455" y="1443">provided in the instruction)</text>
<text class="l" x="453" y="1464">(Operands are fetched from the</text><text class="l" x="453" y="1473">address calculated.)</text>
<text class="l" x="456" y="1505">(Execution of instruction takes place.)</text>
<text class="l" x="457" y="1543">(In this stage, the result from the</text><text class="l" x="457" y="1552">execution of instruction stored or</text><text class="l" x="457" y="1561">Written back in the memory/registers.)</text>

<!-- Fetch Instruction & MUX -->
<rect class="b" x="703" y="1320" width="47" height="27"/><text x="726.5" y="1332">Fetch</text><text x="726.5" y="1341">Instruction</text>
<path class="s" d="M737,1415 L767,1432 L767,1475 L737,1490 Z"/>
<path class="s" d="M697,1460 L737,1460M767,1462 L778,1462M752,1482 L749,1503"/>
<circle class="b" cx="697" cy="1460" r="1.5"/><circle class="b" cx="778" cy="1462" r="1.5"/><circle class="b" cx="749" cy="1503" r="1.5"/>
<text x="705" y="1451">Input</text><text x="755" y="1455">2n</text><text x="771" y="1453">1</text>
<text class="l" x="790" y="1448">Output</text><text class="l" x="790" y="1457">(destination)</text>
<text x="758" y="1489">N</text><text class="l" x="755" y="1506">Select line</text>
</svg>
</body></html>
